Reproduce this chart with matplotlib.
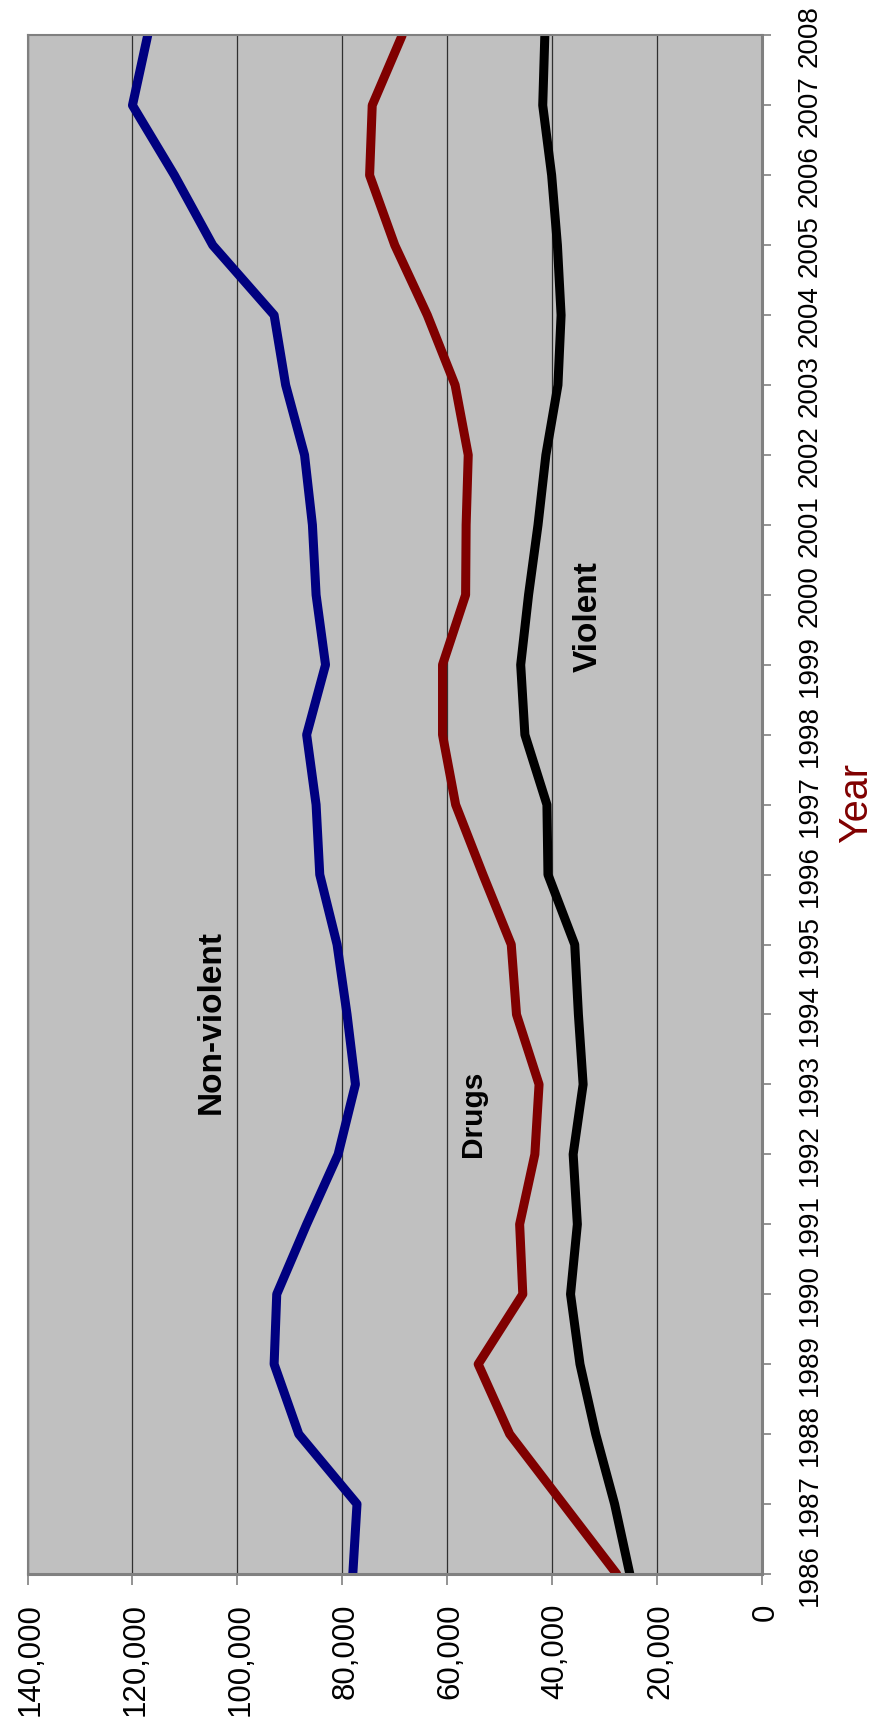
import matplotlib
matplotlib.use("Agg")
import matplotlib.pyplot as plt

plt.rcParams['font.family'] = ['Liberation Sans', 'DejaVu Sans']

# prisoners by offence type
years = list(range(1986, 2009))
nonviolent = [78000, 77200, 88300, 93000, 92500, 86800, 80800, 77500, 79100, 81000, 84300, 85000,
              86800, 83200, 85000, 85700, 87200, 90800, 93000, 104700, 112000, 120000, 117100]
drugs = [27700, 37900, 48100, 54100, 45600, 46200, 43300, 42500, 46800, 47800, 53200, 58400,
         60900, 60900, 56500, 56400, 56000, 58500, 63800, 70000, 74800, 74300, 68600]
violent = [25200, 28100, 31700, 34700, 36500, 35200, 36000, 34100, 35000, 35700, 40800, 41000,
           45200, 46000, 44500, 42700, 41200, 38900, 38300, 39000, 40100, 41800, 41400]
value_ticks = list(range(0, 140001, 20000))

fig = plt.figure(figsize=(8.77, 17.33), dpi=100)
# chart is turned on its side: values run right-to-left, years bottom-to-top
ax = fig.add_axes([0.0314, 0.0912, 0.8375, 0.8878])
ax.set_facecolor('#C0C0C0')

lw = 6.5
ax.plot(nonviolent, years, color='#000080', lw=lw, solid_joinstyle='round', solid_capstyle='round')
ax.plot(drugs, years, color='#800000', lw=lw, solid_joinstyle='round', solid_capstyle='round')
ax.plot(violent, years, color='black', lw=lw, solid_joinstyle='round', solid_capstyle='round')

ax.set_xlim(140000, 0)
ax.set_ylim(1986, 2008)

ax.set_xticks(value_ticks)
ax.set_xticklabels([f"{v:,}" for v in value_ticks])
ax.set_yticks(years)
ax.set_yticklabels([str(y) for y in years])
ax.yaxis.tick_right()

ax.grid(axis='x', color='#303030', lw=0.9)
ax.set_axisbelow(True)

ax.tick_params(axis='x', length=8, width=1.2, color='#808080', pad=12.5, labelsize=22.5)
ax.tick_params(axis='y', length=6.5, width=1.2, color='#808080', pad=33, labelsize=20)
for lbl in ax.get_xticklabels():
    lbl.set_rotation(90)
    lbl.set_rotation_mode('anchor')
    lbl.set_ha('right')
    lbl.set_va('center_baseline')
for lbl in ax.yaxis.get_ticklabels():
    lbl.set_rotation(90)
    lbl.set_rotation_mode('anchor')
    lbl.set_ha('center')
    lbl.set_va('baseline')

for side in ['top', 'left']:
    ax.spines[side].set_color('#808080')
    ax.spines[side].set_linewidth(1.5)
for side in ['bottom', 'right']:
    ax.spines[side].set_color('#808080')
    ax.spines[side].set_linewidth(2.2)

ax.yaxis.set_label_position('right')
ax.set_ylabel('Year', fontsize=28.5, color='#800000')
ax.yaxis.label.set_rotation(90)
ax.yaxis.label.set_rotation_mode('anchor')
ax.yaxis.label.set_ha('center')
ax.yaxis.label.set_va('baseline')
ax.yaxis.set_label_coords(1.1435, 0.502)

ax.text(103300, 1993.9, 'Non-violent', rotation=90, rotation_mode='anchor', ha='center',
        va='baseline', fontsize=24, fontweight='bold')
ax.text(53600, 1992.6, 'Drugs', rotation=90, rotation_mode='anchor', ha='center',
        va='baseline', fontsize=21.5, fontweight='bold')
ax.text(31450, 1999.7, 'Violent', rotation=90, rotation_mode='anchor', ha='center',
        va='baseline', fontsize=24, fontweight='bold')

fig.savefig('out.png', dpi=100)
